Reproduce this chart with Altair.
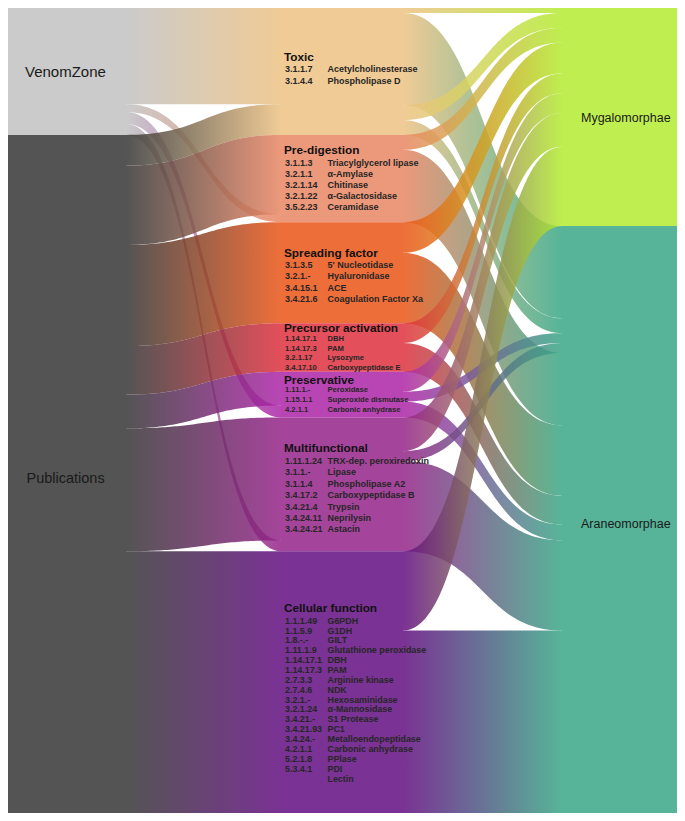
import altair as alt
import pandas as pd
import numpy as np

# ---------------- data ----------------
sources = ["VenomZone", "Publications"]
source_colors = ["#c2c2c2", "#363636"]

categories = ["Toxic", "Pre-digestion", "Spreading factor", "Precursor activation",
              "Preservative", "Multifunctional", "Cellular function"]
category_colors = ["#edc283", "#e98663", "#eb5517", "#de303d", "#ad25a7", "#952389", "#630e81"]

taxa = ["Mygalomorphae", "Araneomorphae"]
taxon_colors = ["#b4eb31", "#39a786"]

# flows source -> category (per category, in category order)
venomzone_flows = [97, 8, 0, 0, 12, 11, 0]
publication_flows = [31, 80, 102, 49, 34, 124, 264]
# whether the VenomZone flow sits on top of the category's inflow
venomzone_on_top = [True, False, False, False, False, False, False]

# flows category -> taxon, listed in stacking order at the category
right_cat = [0, 0, 0, 0, 1, 1, 2, 2, 3, 3, 4, 4, 4, 5, 5, 5, 6, 6]
right_tax = [0, 1, 0, 1, 0, 1, 0, 1, 0, 1, 0, 1, 1, 0, 1, 1, 0, 1]
right_val = [5, 93, 15, 15, 15, 73, 31, 71, 20, 29, 20, 10, 16, 34, 10, 91, 80, 184]
# stacking order of arrival at each taxon (indices into the lists above)
arrival_order = [[0, 2, 4, 6, 8, 10, 13, 16],
                 [1, 3, 11, 14, 5, 7, 9, 12, 15, 17]]

enzymes = [
    [("3.1.1.7", "Acetylcholinesterase"), ("3.1.4.4", "Phospholipase D")],
    [("3.1.1.3", "Triacylglycerol lipase"), ("3.2.1.1", "α-Amylase"), ("3.2.1.14", "Chitinase"),
     ("3.2.1.22", "α-Galactosidase"), ("3.5.2.23", "Ceramidase")],
    [("3.1.3.5", "5' Nucleotidase"), ("3.2.1.-", "Hyaluronidase"), ("3.4.15.1", "ACE"),
     ("3.4.21.6", "Coagulation Factor Xa")],
    [("1.14.17.1", "DBH"), ("1.14.17.3", "PAM"), ("3.2.1.17", "Lysozyme"), ("3.4.17.10", "Carboxypeptidase E")],
    [("1.11.1.-", "Peroxidase"), ("1.15.1.1", "Superoxide dismutase"), ("4.2.1.1", "Carbonic anhydrase")],
    [("1.11.1.24", "TRX-dep. peroxiredoxin"), ("3.1.1.-", "Lipase"), ("3.1.1.4", "Phospholipase A2"),
     ("3.4.17.2", "Carboxypeptidase B"), ("3.4.21.4", "Trypsin"), ("3.4.24.11", "Neprilysin"),
     ("3.4.24.21", "Astacin")],
    [("1.1.1.49", "G6PDH"), ("1.1.5.9", "G1DH"), ("1.8.-.-", "GILT"), ("1.11.1.9", "Glutathione peroxidase"),
     ("1.14.17.1", "DBH"), ("1.14.17.3", "PAM"), ("2.7.3.3", "Arginine kinase"), ("2.7.4.6", "NDK"),
     ("3.2.1.-", "Hexosaminidase"), ("3.2.1.24", "α-Mannosidase"), ("3.4.21.-", "S1 Protease"),
     ("3.4.21.93", "PC1"), ("3.4.24.-", "Metalloendopeptidase"), ("4.2.1.1", "Carbonic anhydrase"),
     ("5.2.1.8", "PPlase"), ("5.3.4.1", "PDI"), ("", "Lectin")],
]

# ---------------- layout ----------------
W, H = 669, 805
YD = 812                                   # total flow fills the height
COL = [(0, 118), (273, 395), (554, 669)]   # column edges in pixels
OP = 0.85
FONT = "Liberation Sans"
item_size = [9.0, 9.0, 9.0, 7.6, 7.6, 9.0, 8.9]
item_step = [12, 11.3, 11.3, 10.0, 10, 11.5, 9.95]
title_gap = [13, 13, 12.5, 10.5, 10.5, 13, 13]
title_offset = [-15, -29, -20, -19.5, -15, -36.5, -75]   # from node centre

xs = alt.Scale(domain=[0, W], nice=False, zero=False)
ys = alt.Scale(domain=[0, YD], nice=False, zero=False, reverse=True)

src_tot = [sum(venomzone_flows), sum(publication_flows)]
cat_tot = [a + b for a, b in zip(venomzone_flows, publication_flows)]
tax_tot = [sum(v for v, t in zip(right_val, right_tax) if t == k) for k in range(2)]


def stack(tots):
    out, y = [], 0.0
    for t in tots:
        out.append((y, y + t))
        y += t
    return out


src_pos, cat_pos, tax_pos = stack(src_tot), stack(cat_tot), stack(tax_tot)


def ribbon(x0, x1, y0, y1, w, n=60):
    t = np.linspace(0, 1, n)
    xm = (x0 + x1) / 2
    x = (1 - t) ** 3 * x0 + 3 * (1 - t) ** 2 * t * xm + 3 * (1 - t) * t ** 2 * xm + t ** 3 * x1
    y = ((1 - t) ** 3 + 3 * (1 - t) ** 2 * t) * y0 + (3 * (1 - t) * t ** 2 + t ** 3) * y1
    return pd.DataFrame({"x": x, "y": y, "y2": y + w})


def grad(c0, c1):
    return alt.Gradient(gradient="linear",
                        stops=[alt.GradientStop(color=c0, offset=0), alt.GradientStop(color=c1, offset=1)],
                        x1=0, x2=1, y1=0, y2=0)


def area_layer(df, c0, c1):
    return alt.Chart(df).mark_area(color=grad(c0, c1), opacity=OP, orient="vertical",
                                   interpolate="linear").encode(
        x=alt.X("x:Q", scale=xs, axis=None),
        y=alt.Y("y:Q", scale=ys, axis=None),
        y2="y2:Q")


layers = []

# ----- left ribbons -----
src_cursor = [p[0] for p in src_pos]
left_specs = []
for c in range(len(categories)):
    v_vz, v_pub = venomzone_flows[c], publication_flows[c]
    top = cat_pos[c][0]
    tgt = {0: top, 1: top + v_vz} if venomzone_on_top[c] else {1: top, 0: top + v_pub}
    for s, v in ((0, v_vz), (1, v_pub)):
        if v <= 0:
            continue
        left_specs.append((s, c, src_cursor[s], tgt[s], v))
        src_cursor[s] += v
# VenomZone ribbons underneath, Publications ribbons over them
for s_draw in (0, 1):
    for s, c, y0, y1, v in left_specs:
        if s == s_draw:
            layers.append(area_layer(ribbon(COL[0][1], COL[1][0], y0, y1, v),
                                     source_colors[s], category_colors[c]))

# ----- right ribbons -----
cat_cursor = [p[0] for p in cat_pos]
start_y = []
for c, v in zip(right_cat, right_val):
    start_y.append(cat_cursor[c])
    cat_cursor[c] += v
end_y = [0.0] * len(right_val)
for k in range(2):
    y = tax_pos[k][0]
    for i in arrival_order[k]:
        end_y[i] = y
        y += right_val[i]
# Araneomorphae-bound first, Mygalomorphae-bound on top
for k_draw in (1, 0):
    for i in range(len(right_val)):
        if right_tax[i] == k_draw:
            layers.append(area_layer(ribbon(COL[1][1], COL[2][0], start_y[i], end_y[i], right_val[i]),
                                     category_colors[right_cat[i]], taxon_colors[right_tax[i]]))

# ----- nodes -----
rows = []
for i, (a, b) in enumerate(src_pos):
    rows.append(dict(x=COL[0][0], x2=COL[0][1], y=a, y2=b, color=source_colors[i]))
for i, (a, b) in enumerate(cat_pos):
    rows.append(dict(x=COL[1][0], x2=COL[1][1], y=a, y2=b, color=category_colors[i]))
for i, (a, b) in enumerate(tax_pos):
    rows.append(dict(x=COL[2][0], x2=COL[2][1], y=a, y2=b, color=taxon_colors[i]))
layers.append(alt.Chart(pd.DataFrame(rows)).mark_rect(opacity=OP).encode(
    x=alt.X("x:Q", scale=xs, axis=None), x2="x2:Q",
    y=alt.Y("y:Q", scale=ys, axis=None), y2="y2:Q",
    color=alt.Color("color:N", scale=None)))

# ----- outer labels -----
outer = pd.DataFrame([
    dict(x=17, y=(src_pos[0][0] + src_pos[0][1]) / 2 + 1, t=sources[0], fs=15),
    dict(x=18.5, y=(src_pos[1][0] + src_pos[1][1]) / 2 + 5, t=sources[1], fs=14.5),
    dict(x=573, y=(tax_pos[0][0] + tax_pos[0][1]) / 2 + 1, t=taxa[0], fs=12.5),
    dict(x=573, y=(tax_pos[1][0] + tax_pos[1][1]) / 2 + 4, t=taxa[1], fs=12.5),
])
layers.append(alt.Chart(outer).mark_text(align="left", baseline="middle", font=FONT,
                                         color="#1a1a1a").encode(
    x=alt.X("x:Q", scale=xs, axis=None), y=alt.Y("y:Q", scale=ys, axis=None),
    text="t:N", size=alt.Size("fs:Q", scale=None)))

# ----- category labels -----
titles, items = [], []
for c, name in enumerate(categories):
    center = (cat_pos[c][0] + cat_pos[c][1]) / 2
    ty = center + title_offset[c]
    titles.append(dict(x=276, y=ty, t=name))
    for j, (ec, nm) in enumerate(enzymes[c]):
        yy = ty + title_gap[c] + j * item_step[c]
        if ec:
            items.append(dict(x=277, y=yy, t=ec, fs=item_size[c]))
        items.append(dict(x=319.5, y=yy, t=nm, fs=item_size[c]))
layers.append(alt.Chart(pd.DataFrame(titles)).mark_text(
    align="left", baseline="middle", font=FONT, fontWeight="bold", fontSize=11.8, color="#111111").encode(
    x=alt.X("x:Q", scale=xs, axis=None), y=alt.Y("y:Q", scale=ys, axis=None), text="t:N"))
layers.append(alt.Chart(pd.DataFrame(items)).mark_text(
    align="left", baseline="middle", font=FONT, fontWeight="bold", color="#262626").encode(
    x=alt.X("x:Q", scale=xs, axis=None), y=alt.Y("y:Q", scale=ys, axis=None), text="t:N",
    size=alt.Size("fs:Q", scale=None)))

chart = alt.layer(*layers).properties(width=W, height=H, padding=0).configure_view(stroke=None)
chart.save("out.html", embed_options={"renderer": "svg", "actions": False})
